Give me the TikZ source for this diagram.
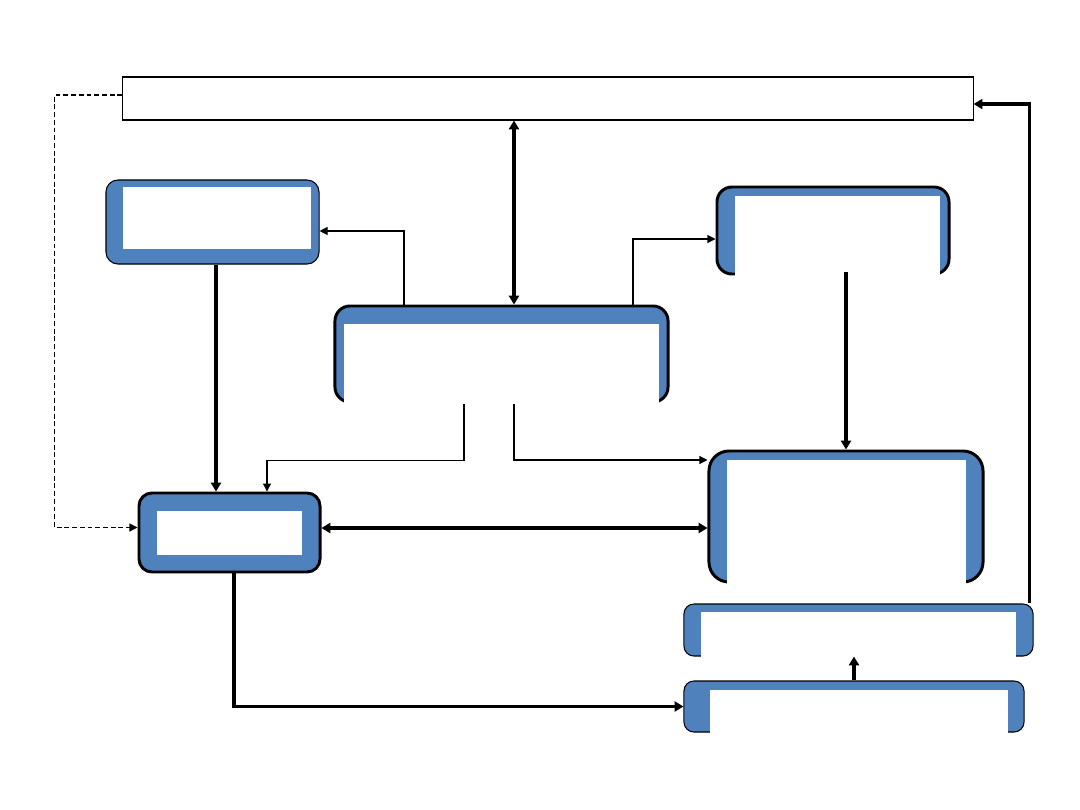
\documentclass[tikz,border=0pt]{standalone}
\usetikzlibrary{arrows.meta, positioning, calc}
\definecolor{boxblue}{HTML}{4F81BD}
\definecolor{ink}{HTML}{000000}
\tikzset{
  panel/.style={
    rectangle, draw=ink, line width=2.1pt, fill=boxblue,
    rounded corners=0.375cm, inner sep=0pt
  },
  panelthin/.style={panel, line width=0.75pt},
  pad/.style={rectangle, fill=white, draw=none, inner sep=0pt},
  banner/.style={rectangle, draw=ink, line width=0.75pt, fill=white, inner sep=0pt},
  arr/.style={-{Triangle[length=2mm, width=2mm]}, line width=0.75pt, draw=ink},
  arrthick/.style={-{Triangle[length=2.2mm, width=2.5mm]}, line width=2.2pt, draw=ink},
  arrboth/.style={{Triangle[length=2.2mm, width=2.5mm]}-{Triangle[length=2.2mm, width=2.5mm]}, line width=2.2pt, draw=ink}
}

\begin{document}
\begin{tikzpicture}[x=0.025cm, y=-0.025cm]
\useasboundingbox (0,0) rectangle (1080,810);

% ---------------- Banner ----------------
\node[banner, minimum width=21.25cm, minimum height=1.075cm] (top) at (548,98.5) {};

% ---------------- Boxes ----------------
\node[panelthin, rounded corners=0.3cm, minimum width=5.325cm, minimum height=2.1cm] (left) at (212.5,222) {};
\node[pad, minimum width=4.7cm, minimum height=1.55cm] (leftin) at (217,218) {};

\node[panel, minimum width=8.325cm, minimum height=2.4cm] (hub) at (501.5,354) {};
\node[pad, minimum width=7.875cm, minimum height=2.0cm] (hubin) at (501.5,364) {};

\node[panel, minimum width=5.8cm, minimum height=2.175cm] (upper) at (833,230.5) {};
\node[pad, minimum width=5.125cm, minimum height=2.0cm] (upperin) at (837.5,236) {};

\node[panel, rounded corners=0.5cm, minimum width=6.85cm, minimum height=3.275cm] (store) at (846,516.5) {};
\node[pad, minimum width=5.975cm, minimum height=3.1cm] (storein) at (846.5,522) {};

\node[panel, rounded corners=0.325cm, minimum width=4.525cm, minimum height=1.975cm] (core) at (229.5,532.5) {};
\node[pad, minimum width=3.625cm, minimum height=1.1cm] (corein) at (229.5,533) {};

\node[panelthin, rounded corners=0.25cm, minimum width=8.725cm, minimum height=1.3cm] (report) at (858.5,630) {};
\node[pad, minimum width=7.875cm, minimum height=1.15cm] (reportin) at (858.5,635) {};

\node[panelthin, rounded corners=0.25cm, minimum width=8.5cm, minimum height=1.275cm] (output) at (854,706.5) {};
\node[pad, minimum width=7.45cm, minimum height=1.1cm] (outputin) at (859,712) {};

% ---------------- Connectors ----------------
\draw[arr, dash pattern=on 3.5pt off 2pt] ($(top.west)+(0,-3.5)$) -- ++(-68,0) |- ($(core.west)+(0,-5)$);
\draw[arrboth] ($(hub.north)+(12.5,0)$) coordinate (h1) -- (h1 |- top.south);
\draw[arr] ($(hub.north)+(-97.5,0)$) |- ($(left.east)+(0,9)$);
\draw[arr] ($(hub.north)+(131.5,0)$) |- ($(upper.west)+(0,8.5)$);
\draw[arrthick] ($(left.south)+(3.5,0)$) coordinate (l1) -- (l1 |- core.north);
\draw[arr] ($(hubin.south)+(-37.5,0)$) -- ++(0,56) -| ($(core.north)+(37.5,0)$);
\draw[arr] ($(hubin.south)+(12.5,0)$) |- ($(store.west)+(0,-56.5)$);
\draw[arrboth] ($(core.east)+(0,-4.5)$) coordinate (c1) -- (c1 -| store.west);
\draw[arrthick] ($(upper.south -| store.north)+(0,-3)$) -- (store.north);
\draw[arrthick] ($(core.south)+(4.5,0)$) |- (output.west);
\draw[arrthick] (output.north) -- (output.north |- report.south);
\draw[arrthick] ($(report.north east)+(-4,0)$) |- ($(top.east)+(0,5.5)$);

\end{tikzpicture}
\end{document}
